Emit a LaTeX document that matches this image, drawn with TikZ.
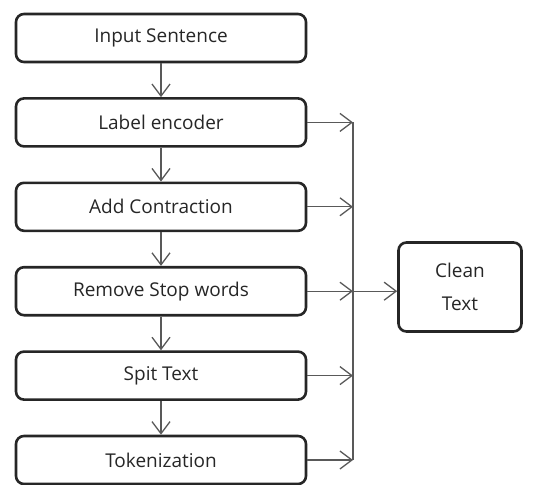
\documentclass[tikz,border=0pt]{standalone}
\usepackage{fontspec}
\setmainfont{Open Sans}
\usetikzlibrary{arrows.meta}

\begin{document}
\begin{tikzpicture}[x=1pt,y=-1pt,
    stage/.style={draw=black!85, line width=2.6pt, rounded corners=8pt, minimum width=290pt, minimum height=48pt, inner sep=0pt, text=black!85, font=\fontsize{19}{23}\selectfont},
    flow/.style={draw=black!65, line width=1.3pt, -{Straight Barb[length=12pt,width=18pt,line width=1.3pt]}},
    bus/.style={draw=black!65, line width=1.3pt}]
            \useasboundingbox (0,0) rectangle (542,485);
            % Define positions of the pipeline steps in a column
            \foreach \t [count=\i] in {Input Sentence, Label encoder, Add Contraction, Remove Stop words, Spit Text, Tokenization} {
                \node[stage] (b\i) at (161, {38+84.4*(\i-1)}) {\t};
                \coordinate (j\i) at (353, {38+84.4*(\i-1)});
            }
            \node[stage, minimum width=123pt, minimum height=89pt, align=center, font=\fontsize{19}{33}\selectfont] (clean) at (460, 287) {Clean\\Text};

            \draw[flow](b1) -- (b2);
            \draw[flow](b2) -- (b3);
            \draw[flow](b3) -- (b4);
            \draw[flow](b4) -- (b5);
            \draw[flow](b5) -- (b6);
            \foreach \i in {2,...,6} {
                \draw[flow](b\i) -- (j\i);
            }
            \draw[bus](j2) -- (j6);
            \draw[flow](j4) -- (j4 -| clean.west);
        \end{tikzpicture}
\end{document}
